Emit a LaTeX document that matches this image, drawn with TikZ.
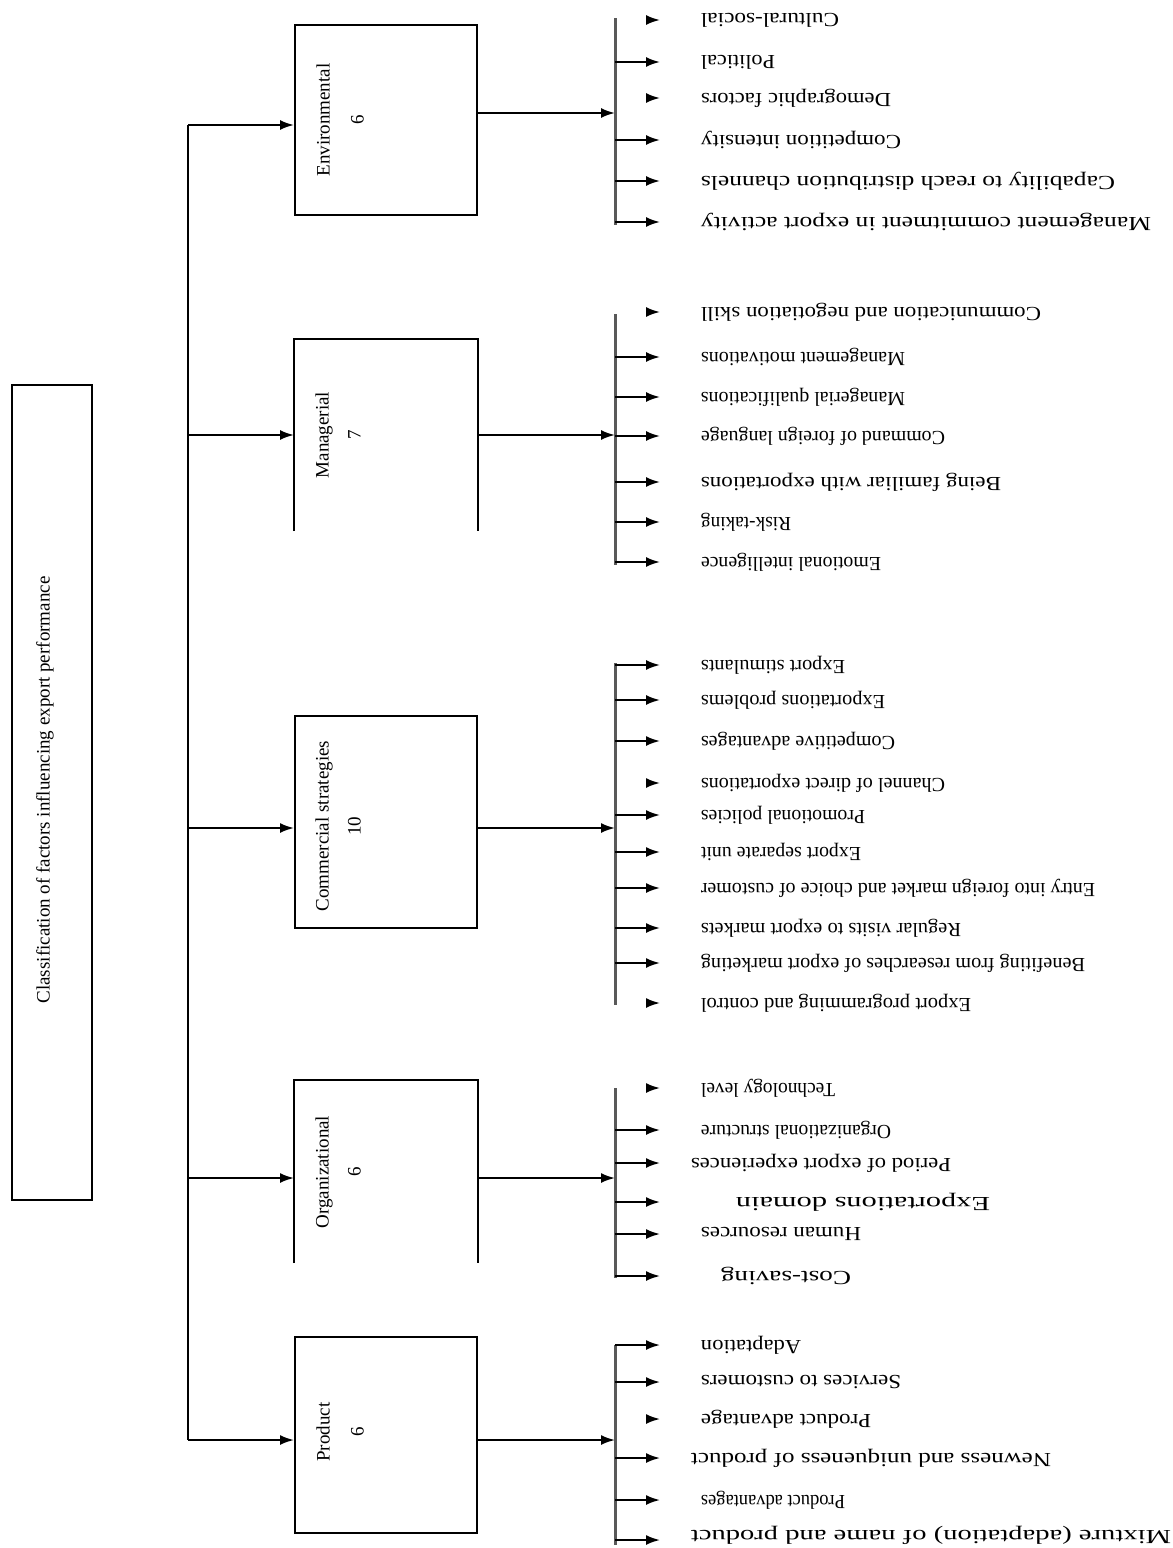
\documentclass[tikz,border=0pt]{standalone}
\usepackage{fontspec}
\setmainfont{Liberation Serif}
\usetikzlibrary{arrows.meta}

\tikzset{
  catbox/.style={minimum width=91pt, inner sep=0pt},
  cattext/.style={rotate=90, align=center, font=\fontsize{9.5}{11}\selectfont},
  factor/.style={rotate=180, anchor=east, inner sep=0pt, font=\fontsize{10}{10}\selectfont},
  tip/.style={line width=1pt, -{Latex[length=7pt,width=5pt]}},
  bar/.style={line width=1.5pt, black!65},
}
% item text stretched to the width it has in the figure
\newcommand{\fitw}[2]{\resizebox{#1pt}{\height}{#2}}

\begin{document}
\begin{tikzpicture}[x=0.5pt, y=-0.5pt, line width=1pt]
  \useasboundingbox (0,0) rectangle (1173,1548);

  % Main box
  \node[draw, minimum width=40pt, minimum height=407.5pt] (main) at (52,792.5) {};
  \node[cattext] (maintxt) at (45,790) {Classification of factors influencing export performance};

  % Category boxes
  \node[catbox, draw, minimum height=95pt] (env) at (386,120) {};
  \node[catbox, minimum height=95pt] (mgr) at (386,435) {};
  \draw (mgr.south west) -- (mgr.north west) -- (mgr.north east) -- (mgr.south east);
  \node[catbox, draw, minimum height=106pt] (com) at (386,822) {};
  \node[catbox, minimum height=90.5pt] (org) at (386,1171.5) {};
  \draw (org.south west) -- (org.north west) -- (org.north east) -- (org.south east);
  \node[catbox, draw, minimum height=98pt] (prod) at (386,1435) {};

  % Category labels
  \node[cattext] (envtxt) at (340,120) {Environmental\\[6pt]6};
  \node[cattext] (mgrtxt) at (338,435) {Managerial\\[5pt]7};
  \node[cattext] (comtxt) at (338,826) {Commercial strategies\\[5pt]10};
  \node[cattext] (orgtxt) at (338,1172) {Organizational\\[5pt]6};
  \node[cattext] (prodtxt) at (340,1432) {Product\\[6pt]6};

  % Trunk and branches
  \coordinate (tenv) at (188,125);
  \coordinate (tmgr) at (188,435);
  \coordinate (tcom) at (188,828);
  \coordinate (torg) at (188,1178);
  \coordinate (tprod) at (188,1440);
  \draw (tenv) -- (tprod);
  \draw[tip] (tenv) -- (env.west |- tenv);
  \draw[tip] (tmgr) -- (mgr.west |- tmgr);
  \draw[tip] (tcom) -- (com.west |- tcom);
  \draw[tip] (torg) -- (org.west |- torg);
  \draw[tip] (tprod) -- (prod.west |- tprod);

  % Box to bracket
  \coordinate (benv) at (615,113);
  \coordinate (bmgr) at (615,435);
  \coordinate (bcom) at (615,828);
  \coordinate (borg) at (615,1178);
  \coordinate (bprod) at (615,1440);
  \draw[tip] (env.east |- benv) -- (benv);
  \draw[tip] (mgr.east |- bmgr) -- (bmgr);
  \draw[tip] (com.east |- bcom) -- (bcom);
  \draw[tip] (org.east |- borg) -- (borg);
  \draw[tip] (prod.east |- bprod) -- (bprod);

  % Brackets
  \draw[bar] (615,18) -- (615,225);
  \draw[bar] (615,314) -- (615,565);
  \draw[bar] (615,663) -- (615,1005);
  \draw[bar] (615,1088) -- (615,1278);
  \draw[bar] (615,1345) -- (615,1545);

  % Item arrows
  \foreach \y in {62,140,181,222, 357,397,436,482,522,562, 665,700,741,815,852,888,928,963,
                  1130,1163,1202,1234,1276, 1345,1382,1458,1500,1540}
    \draw[tip] (615,\y) -- (660,\y);
  % Item arrows drawn with tip only
  \foreach \y in {20,98,312,783,1003,1088,1419}
    \draw[tip] (647,\y) -- (660,\y);

  % Environmental factors
  \foreach \y/\w/\t [count=\i] in {20/69/Cultural-social, 62/37/Political, 98/95/Demographic factors,
      140/100/Competition intensity, 181/207/Capability to reach distribution channels,
      222/225/Management commitment in export activity}
    \node[factor] (fenv\i) at (700,\y) {\fitw{\w}{\t}};

  % Managerial factors
  \foreach \y/\w/\t [count=\i] in {312/170/Communication and negotiation skill, 357/102/Management motivations,
      397/102/Managerial qualifications, 436/122/Command of foreign language,
      482/150/Being familiar with exportations, 522/45/Risk-taking, 562/90/Emotional intelligence}
    \node[factor] (fmgr\i) at (700,\y) {\fitw{\w}{\t}};

  % Commercial strategies
  \foreach \y/\w/\t [count=\i] in {665/72/Export stimulants, 700/92/Exportations problems,
      741/97/Competitive advantages, 783/122/Channel of direct exportations, 815/82/Promotional policies,
      852/80/Export separate unit, 888/197/Entry into foreign market and choice of customer,
      928/130/Regular visits to export markets, 963/192/Benefiting from researches of export marketing,
      1003/135/Export programming and control}
    \node[factor] (fcom\i) at (700,\y) {\fitw{\w}{\t}};

  % Organizational factors
  \foreach \y/\w/\x/\t [count=\i] in {1088/67/700/Technology level, 1130/95/700/Organizational structure,
      1163/130/690/Period of export experiences, 1202/127/735/Exportations domain,
      1234/80/700/Human resources, 1276/65/720/Cost-saving}
    \node[factor] (forg\i) at (\x,\y) {\fitw{\w}{\t}};

  % Product factors
  \foreach \y/\w/\x/\t [count=\i] in {1345/50/700/Adaptation, 1382/100/700/Services to customers,
      1419/85/700/Product advantage, 1458/180/690/Newness and uniqueness of product,
      1500/72/700/Product advantages, 1535/240/690/Mixture (adaptation) of name and product}
    \node[factor] (fprod\i) at (\x,\y) {\fitw{\w}{\t}};
\end{tikzpicture}
\end{document}
